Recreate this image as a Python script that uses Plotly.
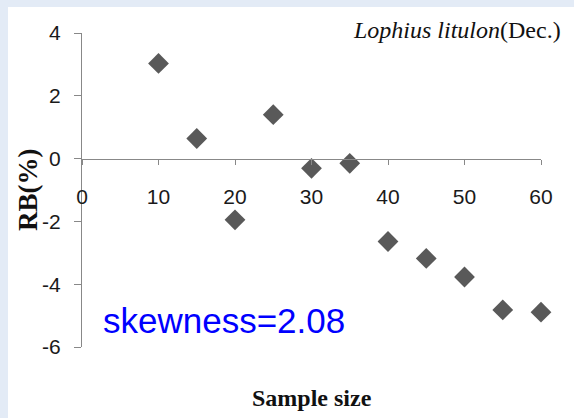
import plotly.graph_objects as go

# Relative bias (%) of the estimate against sample size
sample_size = [10, 15, 20, 25, 30, 35, 40, 45, 50, 55, 60]
rb_percent = [3.03, 0.64, -1.95, 1.40, -0.31, -0.15, -2.64, -3.18, -3.77, -4.82, -4.89]

x_ticks = [0, 10, 20, 30, 40, 50, 60]
y_ticks = [-6, -4, -2, 0, 2, 4]

W, H = 574, 418
L, R, T, B = 82, 33, 33, 71
pw, ph = W - L - R, H - T - B


def px_x(px):
    return (px - L) / pw


def px_y(py):
    return (H - B - py) / ph


sans = "Liberation Sans Narrow, Liberation Sans, Arial, sans-serif"
serif = "Liberation Serif, Times New Roman, serif"
axis_grey = "#888888"

fig = go.Figure(
    go.Scatter(
        x=sample_size,
        y=rb_percent,
        mode="markers",
        marker=dict(symbol="diamond", size=16, color="#595959", line=dict(width=0)),
        showlegend=False,
        cliponaxis=False,
    )
)

fig.update_layout(
    width=W,
    height=H,
    margin=dict(l=L, r=R, t=T, b=B),
    paper_bgcolor="white",
    plot_bgcolor="white",
    xaxis=dict(
        range=[0, 60],
        tickvals=x_ticks,
        ticktext=[str(v) for v in x_ticks],
        anchor="free",
        position=0.6,  # places the horizontal axis at RB = 0
        showline=True,
        linecolor=axis_grey,
        linewidth=1.3,
        ticks="outside",
        ticklen=5,
        tickcolor=axis_grey,
        tickwidth=1.3,
        showgrid=False,
        zeroline=False,
        ticklabelstandoff=14,
        tickfont=dict(family=sans, size=21, color="#1a1a1a"),
    ),
    yaxis=dict(
        range=[-6, 4],
        tickvals=y_ticks,
        ticktext=[str(v) for v in y_ticks],
        showline=True,
        linecolor=axis_grey,
        linewidth=1.3,
        ticks="outside",
        ticklen=7,
        tickcolor=axis_grey,
        tickwidth=1.3,
        showgrid=False,
        zeroline=False,
        ticklabelstandoff=9,
        tickfont=dict(family=sans, size=21, color="#1a1a1a"),
    ),
)

# light blue frame strips along the top and left edges
frame_blue = "#E3EBF6"
fig.add_shape(type="rect", xref="paper", yref="paper",
              x0=px_x(0), x1=px_x(W), y0=px_y(7), y1=px_y(0),
              fillcolor=frame_blue, line=dict(width=0), layer="below")
fig.add_shape(type="rect", xref="paper", yref="paper",
              x0=px_x(0), x1=px_x(8), y0=px_y(H), y1=px_y(0),
              fillcolor=frame_blue, line=dict(width=0), layer="below")

fig.add_annotation(
    x=px_x(563), y=px_y(30), xref="paper", yref="paper",
    xanchor="right", yanchor="middle", showarrow=False,
    text="<i>Lophius litulon</i>(Dec.)",
    font=dict(family=serif, size=24, color="#111111"),
)
fig.add_annotation(
    x=px_x(101), y=px_y(320), xref="paper", yref="paper",
    xanchor="left", yanchor="middle", showarrow=False,
    text="skewness=2.08",
    font=dict(family=sans, size=35, color="#0000FF"),
)
fig.add_annotation(
    x=px_x(312), y=px_y(398), xref="paper", yref="paper",
    xanchor="center", yanchor="middle", showarrow=False,
    text="<b>Sample size</b>",
    font=dict(family=serif, size=24, color="#111111"),
)
fig.add_annotation(
    x=px_x(28), y=px_y(190), xref="paper", yref="paper",
    xanchor="center", yanchor="middle", showarrow=False, textangle=-90,
    text="<b>RB(%)</b>",
    font=dict(family=serif, size=27, color="#111111"),
)

fig.write_html("out.html")
